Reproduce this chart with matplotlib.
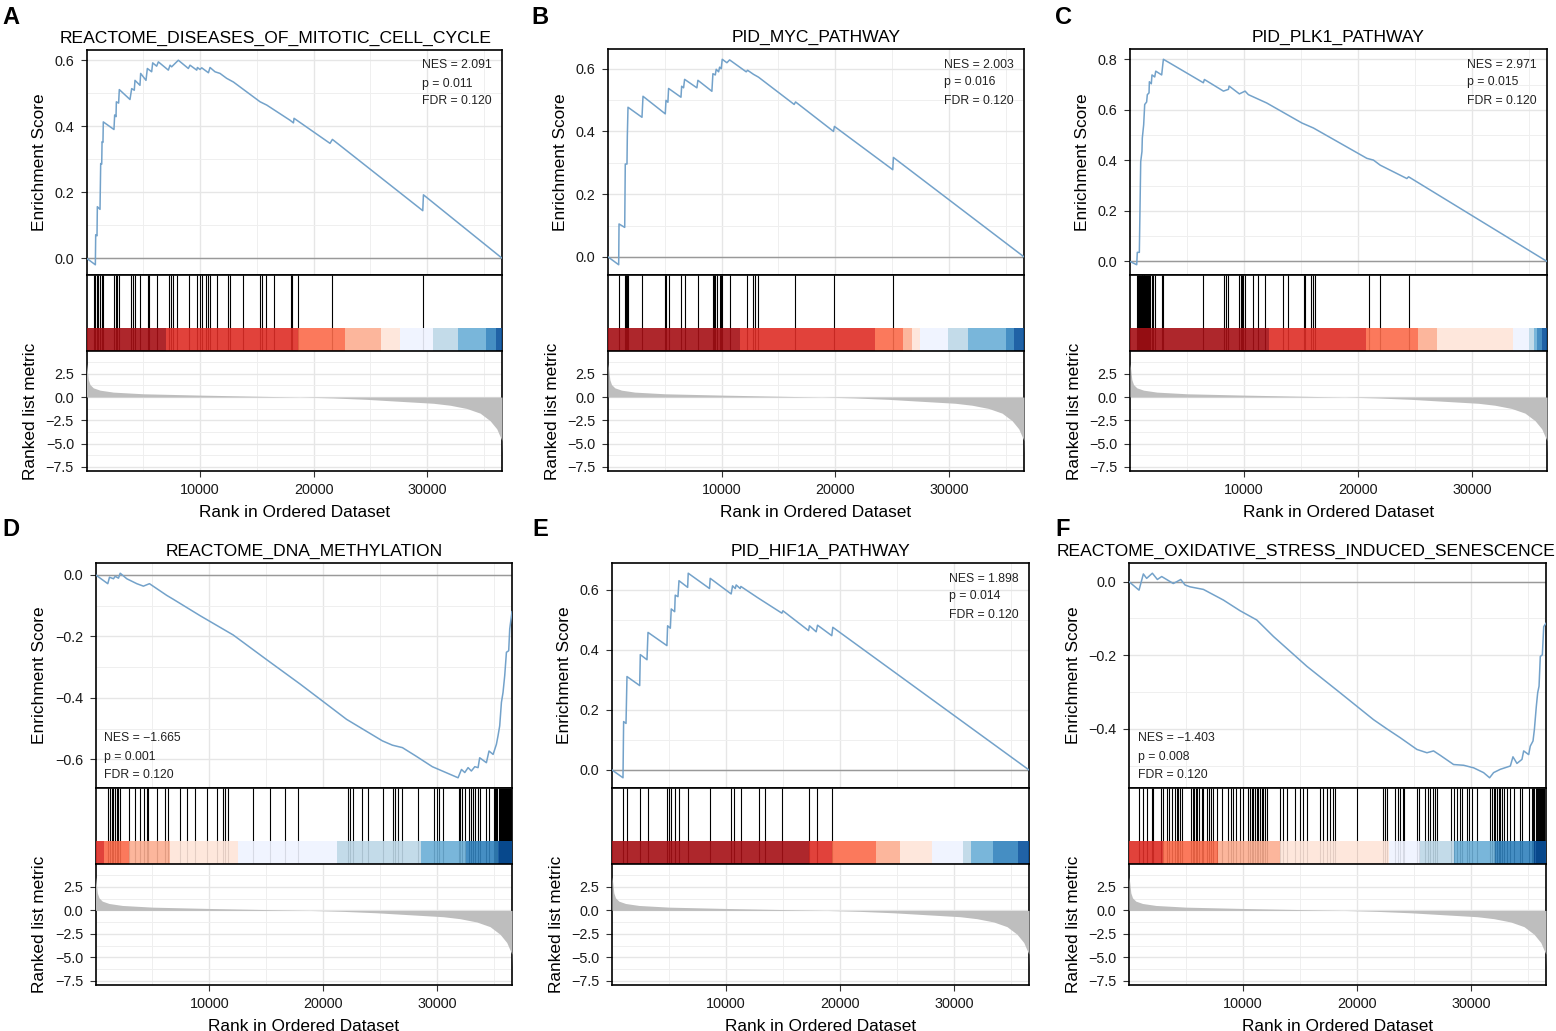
import matplotlib.pyplot as plt
from matplotlib.ticker import MultipleLocator, FixedLocator

plt.rcParams['font.family'] = ['Liberation Sans', 'DejaVu Sans']

N_GENES = 36600

# ranked list metric (same ranked list for every panel)
metric_rank = [1, 70, 160, 310, 600, 1190, 2360, 5010, 10000, 15880, 18810, 21750,
               24690, 27620, 30560, 32030, 33500, 34670, 35550, 36140, 36580, 36600]
metric_value = [3.6, 2.9, 1.87, 1.34, 0.99, 0.74, 0.53, 0.35, 0.21, 0.07, 0.0, -0.10,
                -0.25, -0.46, -0.67, -0.88, -1.23, -1.73, -2.54, -3.42, -4.65, -6.0]

# colour bins of the ranked list strip (blue -> red)
strip_palette = ['#08519C', '#3182BD', '#6BAED6', '#BDD7E7', '#EFF3FF',
                 '#FEE5D9', '#FCAE91', '#FB6A4A', '#DE2D26', '#A50F15']

titles = ['REACTOME_DISEASES_OF_MITOTIC_CELL_CYCLE', 'PID_MYC_PATHWAY', 'PID_PLK1_PATHWAY',
          'REACTOME_DNA_METHYLATION', 'PID_HIF1A_PATHWAY', 'REACTOME_OXIDATIVE_STRESS_INDUCED_SENESCENCE']
letters = ['A', 'B', 'C', 'D', 'E', 'F']
nes = [2.091, 2.003, 2.971, -1.665, 1.898, -1.403]
pvals = [0.011, 0.016, 0.015, 0.001, 0.014, 0.008]
fdr = [0.120, 0.120, 0.120, 0.120, 0.120, 0.120]

# ---- A
es_a_rank = [1, 780, 810, 925, 955, 1190, 1250, 1340, 1370, 1450, 1480, 2420, 2480, 2600, 2630,
             2830, 2890, 3830, 3980, 4210, 4270, 4710, 4770, 5240, 5360, 5740, 5830, 6180, 6330,
             7210, 7360, 7500, 8090, 8970, 9120, 9710, 9770, 10000, 10150, 10740, 10880, 11320,
             11760, 12350, 12940, 15290, 15880, 16460, 17930, 18230, 18280, 21450, 21660, 29620,
             29680, 36600]
es_a_score = [0.0, -0.020, 0.071, 0.068, 0.156, 0.148, 0.287, 0.285, 0.353, 0.351, 0.413, 0.390,
              0.434, 0.429, 0.474, 0.470, 0.511, 0.481, 0.514, 0.509, 0.539, 0.524, 0.560, 0.539,
              0.575, 0.565, 0.592, 0.582, 0.595, 0.570, 0.585, 0.580, 0.600, 0.575, 0.585, 0.570,
              0.578, 0.572, 0.577, 0.562, 0.578, 0.565, 0.560, 0.545, 0.534, 0.474, 0.464, 0.451,
              0.418, 0.410, 0.424, 0.348, 0.360, 0.144, 0.192, 0.0]
hits_a = [660, 750, 900, 1040, 1190, 1340, 1480, 2420, 2570, 2720, 2890, 3920, 4130, 4270, 4710,
          5390, 5540, 6180, 7300, 7420, 7590, 7950, 9030, 9770, 10000, 10150, 10530, 10740, 10880,
          11470, 12500, 12640, 13820, 15290, 15430, 15790, 16520, 17990, 18140, 18610, 21660, 29620]
strip_a_edges = [0, 7000, 18600, 22800, 25900, 27600, 30500, 32700, 35200, 36100, 36600]
strip_a_bins = [9, 8, 7, 6, 5, 4, 3, 2, 1, 0]

# ---- B
es_b_rank = [1, 940, 970, 1470, 1520, 1670, 1700, 1760, 2990, 3080, 5040, 5100, 5270, 5330, 6420,
             6480, 6650, 6740, 7820, 7910, 9140, 9230, 9440, 9520, 9730, 9820, 9960, 10050, 10460,
             10700, 12160, 12280, 12800, 13240, 16380, 16500, 19840, 19920, 25050, 25110, 36600]
es_b_score = [0.0, -0.025, 0.105, 0.094, 0.296, 0.296, 0.384, 0.477, 0.445, 0.512, 0.456, 0.499,
              0.493, 0.537, 0.509, 0.544, 0.539, 0.566, 0.539, 0.563, 0.528, 0.584, 0.580, 0.598,
              0.590, 0.605, 0.600, 0.630, 0.619, 0.628, 0.590, 0.595, 0.582, 0.573, 0.486, 0.494,
              0.400, 0.416, 0.278, 0.317, 0.0]
hits_b = [970, 1470, 1550, 1670, 1760, 2990, 4980, 5100, 5330, 6420, 6740, 7880, 9200, 9290, 9440,
          9580, 9820, 9960, 10020, 10750, 12220, 12750, 12950, 13160, 16470, 19900, 25050]
strip_b_edges = [0, 11630, 23500, 25930, 26720, 27450, 29950, 31700, 35010, 35750, 36600]
strip_b_bins = [9, 8, 7, 6, 5, 4, 3, 2, 1, 0]

# ---- C
es_c_rank = [1, 590, 640, 820, 940, 1050, 1080, 1200, 1290, 1460, 1520, 1670, 1700, 1870, 1930,
             2170, 2260, 2780, 2930, 6440, 6530, 8200, 8640, 8700, 9600, 10100, 10390, 12000,
             15080, 16100, 20790, 21370, 21960, 24300, 24450, 36600]
es_c_score = [0.0, -0.013, 0.036, 0.036, 0.395, 0.435, 0.488, 0.541, 0.621, 0.631, 0.660, 0.667,
              0.711, 0.703, 0.738, 0.730, 0.753, 0.738, 0.800, 0.707, 0.720, 0.674, 0.681, 0.694,
              0.663, 0.674, 0.660, 0.627, 0.548, 0.528, 0.408, 0.401, 0.381, 0.328, 0.335, 0.0]
hits_c = [640, 730, 820, 910, 970, 1030, 1080, 1140, 1200, 1260, 1350, 1440, 1520, 1610, 1700,
          1760, 1900, 2050, 2200, 2780, 2930, 6440, 8290, 8430, 8640, 9600, 9720, 9810, 9960,
          10100, 10830, 11270, 11860, 13470, 13910, 15230, 15370, 15870, 16050, 16250, 20940,
          21960, 24450]
strip_c_edges = [0, 12240, 20730, 25270, 26940, 33610, 34990, 35430, 35720, 36160, 36600]
strip_c_bins = [9, 8, 7, 6, 5, 4, 3, 2, 1, 0]

# ---- D
es_d_rank = [1, 1080, 1230, 1580, 1730, 2020, 2170, 2750, 3630, 4210, 4740, 6260, 6850, 9190,
             12110, 15040, 17970, 20890, 22060, 25210, 26090, 26970, 28140, 29600, 31860, 32160,
             32450, 32740, 33030, 33330, 33620, 33760, 34350, 34580, 34940, 35230, 35370, 35520,
             35670, 35810, 35960, 36110, 36310, 36400, 36600]
es_d_score = [0.0, -0.029, -0.008, -0.013, -0.005, -0.011, 0.005, -0.013, -0.029, -0.037, -0.029,
              -0.067, -0.080, -0.133, -0.196, -0.276, -0.355, -0.437, -0.470, -0.540, -0.554,
              -0.562, -0.589, -0.624, -0.660, -0.633, -0.643, -0.627, -0.638, -0.624, -0.627,
              -0.595, -0.611, -0.573, -0.584, -0.551, -0.524, -0.491, -0.415, -0.383, -0.328,
              -0.252, -0.247, -0.176, -0.120]
hits_d = [1140, 1290, 1430, 1580, 1730, 1870, 2020, 2170, 2900, 3480, 3920, 4270, 4510, 4650,
          5380, 6120, 6410, 7430, 8020, 8750, 9830, 10650, 11180, 11380, 11680, 13870, 15330,
          16650, 17820, 22210, 22350, 22650, 23380, 23960, 25280, 26100, 26310, 26600, 26890,
          28350, 29730, 30020, 30200, 30550, 31950, 32070, 32240, 32450, 32830, 33030, 33180,
          33330, 33620, 33770, 34350, 34590, 35020, 35140, 35230, 35320, 35430, 35520, 35610,
          35700, 35790, 35870, 35960, 36050, 36140, 36220, 36310, 36400, 36490]
strip_d_edges = [0, 760, 2900, 6550, 12550, 21240, 28560, 32600, 35380, 36600]
strip_d_bins = [8, 7, 6, 5, 4, 3, 2, 1, 0]

# ---- E
es_e_rank = [1, 965, 1020, 1230, 1315, 2430, 2485, 3070, 3160, 4820, 4880, 5120, 5200, 5500, 5550,
             5790, 5880, 6640, 6690, 8560, 8620, 10460, 10580, 10820, 10900, 11250, 11310, 12770,
             14910, 15000, 17250, 17330, 17920, 18040, 19290, 19380, 36600]
es_e_score = [0.0, -0.026, 0.161, 0.155, 0.311, 0.281, 0.384, 0.367, 0.458, 0.414, 0.480, 0.472,
              0.536, 0.527, 0.582, 0.577, 0.630, 0.608, 0.655, 0.604, 0.638, 0.586, 0.613, 0.604,
              0.616, 0.604, 0.611, 0.574, 0.522, 0.530, 0.464, 0.480, 0.460, 0.482, 0.447, 0.475,
              0.0]
hits_e = [935, 1315, 2430, 3130, 4820, 5030, 5200, 5550, 5850, 6660, 8560, 10460, 10670, 11310,
          12860, 13390, 14910, 17250, 17980, 19290]
strip_e_edges = [0, 17330, 19290, 23180, 25280, 28060, 30780, 31480, 33470, 35660, 36600]
strip_e_bins = [9, 8, 7, 6, 5, 4, 3, 2, 1, 0]

# ---- F
es_f_rank = [1, 880, 1260, 1550, 2050, 2490, 2870, 3460, 3890, 4190, 4540, 4920, 5360, 6530,
             8290, 9750, 11210, 12680, 15610, 18530, 21460, 22630, 23800, 25270, 26150, 26730,
             27320, 28490, 29370, 30250, 31120, 31650, 32000, 32590, 33470, 33700, 34050, 34490,
             34640, 35080, 35220, 35460, 35580, 35750, 35870, 35990, 36100, 36280, 36400, 36600]
es_f_score = [0.0, -0.023, 0.021, 0.009, 0.023, 0.006, 0.014, 0.003, -0.005, 0.0, 0.006, -0.009,
              -0.014, -0.021, -0.050, -0.079, -0.104, -0.149, -0.230, -0.302, -0.375, -0.400,
              -0.424, -0.456, -0.465, -0.460, -0.472, -0.497, -0.499, -0.506, -0.519, -0.533,
              -0.519, -0.510, -0.501, -0.476, -0.494, -0.483, -0.460, -0.470, -0.447, -0.433,
              -0.402, -0.339, -0.302, -0.284, -0.203, -0.199, -0.122, -0.113]
hits_f = [880, 1260, 1610, 1990, 2140, 2780, 2960, 3310, 3540, 3810, 4040, 4190, 4330, 4480, 4630,
          5420, 5590, 5710, 5890, 6000, 6180, 6380, 6530, 6820, 7000, 7170, 7410, 7700, 8140, 8730,
          8930, 9170, 9400, 9750, 9980, 10480, 10630, 10780, 10920, 11070, 11210, 11360, 11510,
          11650, 11800, 11950, 12090, 13260, 13500, 13850, 14580, 15020, 15310, 15610, 16780,
          17070, 17420, 17660, 17890, 18040, 20000, 22280, 22430, 22630, 23370, 23570, 23810,
          24010, 24160, 25270, 25470, 26000, 26210, 26380, 26670, 26880, 27030, 28260, 28490,
          28780, 29020, 29220, 29660, 29810, 30100, 30540, 31710, 31860, 32000, 32150, 32300,
          32440, 32590, 32740, 32880, 33170, 33410, 33760, 34350, 34490, 35080, 35370, 35460,
          35580, 35690, 35810, 35900, 35990, 36070, 36160, 36250, 36340, 36420]
strip_f_edges = [0, 3020, 7850, 13210, 22780, 25560, 28490, 32150, 35520, 36600]
strip_f_bins = [8, 7, 6, 5, 4, 3, 2, 1, 0]

es_ranks = [es_a_rank, es_b_rank, es_c_rank, es_d_rank, es_e_rank, es_f_rank]
es_scores = [es_a_score, es_b_score, es_c_score, es_d_score, es_e_score, es_f_score]
hits = [hits_a, hits_b, hits_c, hits_d, hits_e, hits_f]
strip_edges = [strip_a_edges, strip_b_edges, strip_c_edges, strip_d_edges, strip_e_edges, strip_f_edges]
strip_bins = [strip_a_bins, strip_b_bins, strip_c_bins, strip_d_bins, strip_e_bins, strip_f_bins]

# layout in pixels: left, right, es top, es bottom, strip bottom, metric bottom
W, H = 1556, 1031
boxes = [(86.5, 502, 50, 275, 351, 471), (608, 1024, 49, 275, 351, 471),
         (1130, 1547, 49, 275, 351, 471), (95.5, 512, 563, 788, 864, 985),
         (612, 1029, 563, 788, 864, 985), (1129, 1546, 563, 788, 864, 985)]
title_x = [0.454, 0.5, 0.5, 0.5, 0.5, 0.425]
letter_xy = [(11, 17), (540, 17), (1063, 17), (11, 530), (540, 530), (1063, 530)]

LINE = '#73A2CA'
TICK_FS = 10.4
LAB_FS = 12.4


def px_rect(left, right, top, bottom):
    return [left / W, 1 - bottom / H, (right - left) / W, (bottom - top) / H]


def style_grid(ax):
    ax.set_axisbelow(True)
    ax.grid(which='major', color='#E6E6E6', lw=1.0)
    ax.grid(which='minor', color='#EFEFEF', lw=0.7)
    for s in ax.spines.values():
        s.set_linewidth(1.2)
        s.set_color('black')
    ax.tick_params(which='major', length=4, width=0.8, color='#333333',
                   labelsize=TICK_FS, labelcolor='#1A1A1A', pad=5)
    ax.tick_params(axis='x', which='major', pad=4.5)
    ax.tick_params(which='minor', length=0)


fig = plt.figure(figsize=(W / 100, H / 100), dpi=100)

for i in range(6):
    left, right, top, es_bot, strip_bot, bot = boxes[i]

    # running enrichment score
    ax1 = fig.add_axes(px_rect(left, right, top, es_bot))
    ax1.plot(es_ranks[i], es_scores[i], color=LINE, lw=1.1, zorder=3)
    ax1.axhline(0, color='#999999', lw=1.0, zorder=2)
    lo, hi = min(es_scores[i]), max(es_scores[i])
    pad = (hi - lo) * 0.05
    ax1.set_ylim(lo - pad, hi + pad)
    ax1.set_xlim(0, N_GENES)
    ax1.xaxis.set_major_locator(FixedLocator([10000, 20000, 30000]))
    ax1.xaxis.set_minor_locator(FixedLocator([5000, 15000, 25000, 35000]))
    ax1.yaxis.set_major_locator(MultipleLocator(0.2))
    ax1.yaxis.set_minor_locator(MultipleLocator(0.1))
    ax1.yaxis.set_major_formatter(lambda v, p: f'{v:.1f}'.replace('-', '\u2212'))
    style_grid(ax1)
    ax1.tick_params(axis='x', which='both', length=0, labelbottom=False)
    ax1.set_ylabel('Enrichment Score', fontsize=LAB_FS, labelpad=5.5)
    ax1.set_title(titles[i], fontsize=12.6, x=title_x[i], pad=5)

    lines = [f'NES = {nes[i]:.3f}', f'p = {pvals[i]:.3f}', f'FDR = {fdr[i]:.3f}']
    lines = [s.replace('-', '\u2212') for s in lines]
    es_h = es_bot - top
    if nes[i] > 0:
        tx, ys = (right - left - 80) / (right - left), [1 - 15.5 / es_h, 1 - 33.5 / es_h, 1 - 51.5 / es_h]
    else:
        tx, ys = 8.5 / (right - left), [50 / es_h, 31 / es_h, 13 / es_h]
    for s, ty in zip(lines, ys):
        ax1.text(tx, ty, s, transform=ax1.transAxes, fontsize=8.8, color='#222222',
                 ha='left', va='center')

    # gene hits and ranked list colour strip
    ax2 = fig.add_axes(px_rect(left, right, es_bot, strip_bot))
    ax2.vlines(hits[i], 0, 1, color='black', lw=0.8)
    edges = strip_edges[i]
    widths = [edges[k + 1] - edges[k] for k in range(len(edges) - 1)]
    cols = [strip_palette[b] for b in strip_bins[i]]
    ax2.bar(edges[:-1], [0.3] * len(widths), width=widths, bottom=0, align='edge',
            color=cols, alpha=0.9, lw=0, zorder=3)
    ax2.set_xlim(0, N_GENES)
    ax2.set_ylim(0, 1)
    ax2.set_xticks([])
    ax2.set_yticks([])
    for s in ax2.spines.values():
        s.set_linewidth(1.2)

    # ranked list metric
    ax3 = fig.add_axes(px_rect(left, right, strip_bot, bot))
    ax3.fill_between(metric_rank, 0, metric_value, color='#BEBEBE', lw=0, zorder=3)
    ax3.set_xlim(0, N_GENES)
    ax3.set_ylim(-7.95, 4.95)
    ax3.xaxis.set_major_locator(FixedLocator([10000, 20000, 30000]))
    ax3.xaxis.set_minor_locator(FixedLocator([5000, 15000, 25000, 35000]))
    ax3.yaxis.set_major_locator(FixedLocator([2.5, 0.0, -2.5, -5.0, -7.5]))
    ax3.yaxis.set_minor_locator(FixedLocator([3.75, 1.25, -1.25, -3.75, -6.25]))
    ax3.yaxis.set_major_formatter(lambda v, p: f'{v:.1f}'.replace('-', '\u2212'))
    style_grid(ax3)
    ax3.set_ylabel('Ranked list metric', fontsize=LAB_FS, labelpad=5.5)
    ax3.set_xlabel('Rank in Ordered Dataset', fontsize=LAB_FS, labelpad=6)

    lx, ly = letter_xy[i]
    fig.text(lx / W, 1 - ly / H, letters[i], fontsize=17, fontweight='bold',
             ha='center', va='center')

fig.savefig('out.png', dpi=100)
